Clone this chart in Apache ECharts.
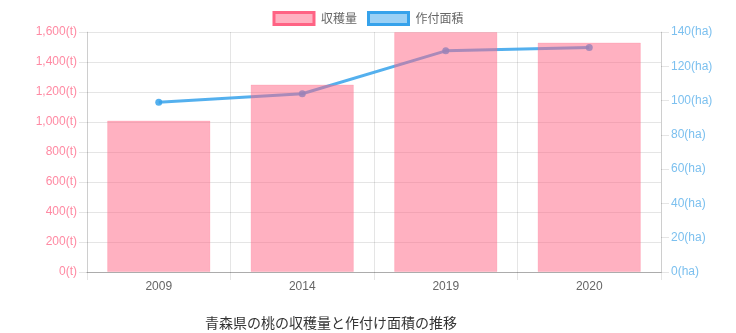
<!DOCTYPE html>
<html>
<head>
<meta charset="utf-8">
<script src="https://cdn.jsdelivr.net/npm/echarts@6/dist/echarts.min.js"></script>
<style>html,body{margin:0;padding:0;background:#fff;}#c{width:736px;height:333px;}</style>
</head>
<body>
<div id="c"></div>
<script>
const categories = ['2009', '2014', '2019', '2020'];
const harvest = [1010, 1250, 1600, 1530];
const area = [99, 104, 129, 131];
const harvestName = '収穫量';
const areaName = '作付面積';
const titleText = '青森県の桃の収穫量と作付け面積の推移';

const chart = echarts.init(document.getElementById('c'), null, {renderer: 'canvas'});
const gridColor = 'rgba(0,0,0,0.1)';
const font = 'Liberation Sans, Arial, sans-serif';
chart.setOption({
  animation: false,
  title: {
    text: titleText, left: 326, top: 311, textAlign: 'center',
    textStyle: {fontFamily: 'Noto Sans CJK JP', fontSize: 14, fontWeight: 'normal', color: '#333'}
  },
  legend: {
    top: 6, left: 'center', itemWidth: 40, itemHeight: 12, itemGap: 10,
    textStyle: {color: '#666', fontSize: 12, fontFamily: 'Noto Sans CJK JP', padding: [0, 0, 0, 2]},
    data: [
      {name: harvestName, icon: 'rect', itemStyle: {color: 'rgba(255,99,132,0.5)', borderColor: 'rgb(255,99,132)', borderWidth: 3}},
      {name: areaName, icon: 'rect', itemStyle: {color: 'rgba(54,162,235,0.5)', borderColor: 'rgb(54,162,235)', borderWidth: 3}}
    ]
  },
  grid: {left: 87, right: 75, top: 32, bottom: 61, containLabel: false},
  xAxis: {
    type: 'category', data: categories,
    axisLine: {lineStyle: {color: 'rgba(0,0,0,0.25)'}},
    axisTick: {show: true, length: 8, lineStyle: {color: gridColor}},
    splitLine: {show: true, lineStyle: {color: gridColor}},
    axisLabel: {color: '#666', fontSize: 12, fontFamily: font, margin: 9}
  },
  yAxis: [
    {
      type: 'value', min: 0, max: 1600, interval: 200, position: 'left',
      axisLine: {show: true, lineStyle: {color: gridColor}},
      axisTick: {show: true, length: 8, lineStyle: {color: gridColor}},
      splitLine: {show: true, lineStyle: {color: gridColor}},
      axisLabel: {color: '#ff8aa3', fontSize: 12, fontFamily: font, margin: 10,
        formatter: v => v.toLocaleString('en-US') + '(t)'}
    },
    {
      type: 'value', min: 0, max: 140, interval: 20, position: 'right',
      axisLine: {show: true, lineStyle: {color: gridColor}},
      axisTick: {show: true, length: 8, lineStyle: {color: gridColor}},
      splitLine: {show: false},
      axisLabel: {color: '#7cc0ef', fontSize: 12, fontFamily: font, margin: 10,
        formatter: v => v + '(ha)'}
    }
  ],
  series: [
    {
      name: harvestName, type: 'bar', data: harvest, yAxisIndex: 0, z: 3,
      barCategoryGap: '28%',
      itemStyle: {color: 'rgba(255,99,132,0.5)', borderColor: 'rgba(255,99,132,0.2)', borderWidth: 1}
    },
    {
      name: areaName, type: 'line', data: area, yAxisIndex: 1, z: 2,
      symbol: 'circle', symbolSize: 7,
      lineStyle: {color: 'rgba(54,162,235,0.85)', width: 3},
      itemStyle: {color: 'rgba(54,162,235,0.85)'}
    }
  ]
});
</script>
</body>
</html>
